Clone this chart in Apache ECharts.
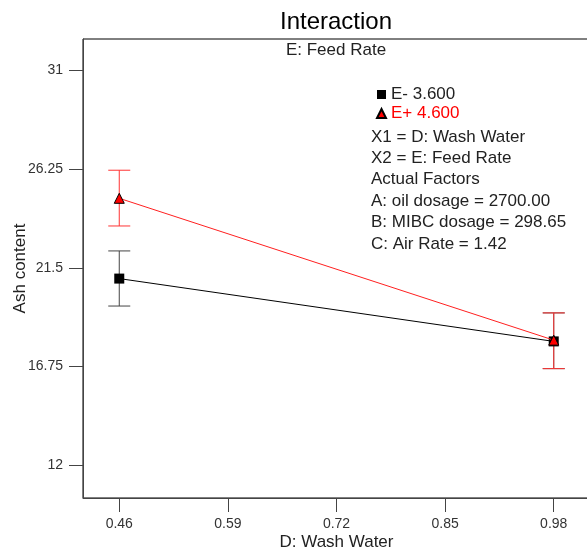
<!DOCTYPE html>
<html>
<head>
<meta charset="utf-8">
<script src="https://cdn.jsdelivr.net/npm/echarts@6/dist/echarts.min.js"></script>
<style>
  html, body { margin: 0; padding: 0; background: #fff; }
  #chart { width: 587px; height: 551px; }
</style>
</head>
<body>
<div id="chart"></div>
<script>
  // wash water levels (x) and predicted ash content for the two feed rate levels
  var washWater = [0.46, 0.98]
  var lowFeed = [20.98, 17.96]
  var lowFeedLo = [19.66, 16.65]
  var lowFeedHi = [22.31, 19.33]
  var highFeed = [24.84, 18.02]
  var highFeedLo = [23.51, 16.65]
  var highFeedHi = [26.19, 19.33]
  var xTicks = [0.46, 0.59, 0.72, 0.85, 0.98]
  var yTicks = [12, 16.75, 21.5, 26.25, 31]
  var infoLines = [
    'X1 = D: Wash Water',
    'X2 = E: Feed Rate',
    'Actual Factors',
    'A: oil dosage = 2700.00',
    'B: MIBC dosage = 298.65',
    'C: Air Rate = 1.42'
  ]

  var FONT = '"Liberation Sans", Arial, sans-serif'

  function pairs (xs, ys) {
    return xs.map((x, i) => [x, ys[i]])
  }
  function bars (xs, lo, hi) {
    return xs.map((x, i) => [x, lo[i], hi[i]])
  }

  function errorBar (color) {
    return function (params, api) {
      var top = api.coord([api.value(0), api.value(2)])
      var bot = api.coord([api.value(0), api.value(1)])
      var w = 11
      var style = { stroke: color, lineWidth: 1 }
      return {
        type: 'group',
        children: [
          { type: 'line', shape: { x1: top[0], y1: top[1], x2: bot[0], y2: bot[1] }, style: style },
          { type: 'line', shape: { x1: top[0] - w, y1: top[1], x2: top[0] + w, y2: top[1] }, style: style },
          { type: 'line', shape: { x1: bot[0] - w, y1: bot[1], x2: bot[0] + w, y2: bot[1] }, style: style }
        ]
      }
    }
  }

  var graphics = [
    { type: 'text', x: 336, y: 22, style: { text: 'Interaction', font: '24px ' + FONT, fill: '#000', align: 'center', verticalAlign: 'middle' } },
    { type: 'text', x: 336, y: 50, style: { text: 'E: Feed Rate', font: '17px ' + FONT, fill: '#222', align: 'center', verticalAlign: 'middle' } }
  ]
  infoLines.forEach((t, i) => {
    graphics.push({
      type: 'text', x: 371, y: 137 + i * 21.4,
      style: { text: t, font: '17px ' + FONT, fill: '#222', verticalAlign: 'middle' }
    })
  })

  var chart = echarts.init(document.getElementById('chart'))
  var option = {
    animation: false,
    backgroundColor: '#fff',
    textStyle: { fontFamily: FONT },
    grid: {
      left: 83, top: 39, right: -3, bottom: 53,
      outerBoundsMode: 'none',
      containLabel: false,
      show: true, borderColor: '#000', borderWidth: 1
    },
    legend: {
      orient: 'vertical',
      left: 371,
      top: 81,
      itemWidth: 9,
      itemHeight: 9,
      itemGap: 2,
      selectedMode: false,
      textStyle: { fontSize: 17, color: '#222', fontFamily: FONT },
      data: [
        { name: 'E- 3.600', icon: 'rect' },
        { name: 'E+ 4.600', icon: 'triangle', textStyle: { color: '#ff0000' } }
      ]
    },
    xAxis: {
      type: 'value',
      min: 0.4166,
      max: 1.0234,
      name: 'D: Wash Water',
      nameLocation: 'middle',
      nameGap: 36,
      nameMoveOverlap: false,
      nameTextStyle: { fontSize: 17, color: '#222', fontFamily: FONT },
      splitLine: { show: false },
      axisLine: { lineStyle: { color: '#444' } },
      axisTick: { length: 14, customValues: xTicks, lineStyle: { color: '#444' } },
      axisLabel: {
        customValues: xTicks, margin: 19, fontSize: 14, color: '#333',
        formatter: v => v.toFixed(2)
      }
    },
    yAxis: {
      type: 'value',
      min: 10.43,
      max: 32.5,
      name: 'Ash content',
      nameLocation: 'middle',
      nameGap: 54,
      nameMoveOverlap: false,
      nameTextStyle: { fontSize: 17, color: '#222', fontFamily: FONT },
      splitLine: { show: false },
      axisLine: { show: true, lineStyle: { color: '#444' } },
      axisTick: { show: true, length: 14, customValues: yTicks, lineStyle: { color: '#444' } },
      axisLabel: {
        customValues: yTicks, margin: 20, fontSize: 14, color: '#333',
        formatter: v => String(v)
      }
    },
    graphic: graphics,
    series: [
      {
        name: 'E- bars',
        type: 'custom',
        renderItem: errorBar('#444'),
        data: bars(washWater, lowFeedLo, lowFeedHi),
        z: 1
      },
      {
        name: 'E+ bars',
        type: 'custom',
        renderItem: errorBar('#ff3333'),
        data: bars(washWater, highFeedLo, highFeedHi),
        z: 2
      },
      {
        name: 'E- 3.600',
        type: 'line',
        data: pairs(washWater, lowFeed),
        symbol: 'rect',
        symbolSize: 10,
        itemStyle: { color: '#000' },
        lineStyle: { color: '#000', width: 1 },
        z: 3
      },
      {
        name: 'E+ 4.600',
        type: 'line',
        data: pairs(washWater, highFeed),
        symbol: 'triangle',
        symbolSize: 10,
        itemStyle: { color: '#ff0000', borderColor: '#000', borderWidth: 1 },
        lineStyle: { color: '#ff2020', width: 1 },
        z: 4
      }
    ]
  }
  chart.setOption(option)
</script>
</body>
</html>
